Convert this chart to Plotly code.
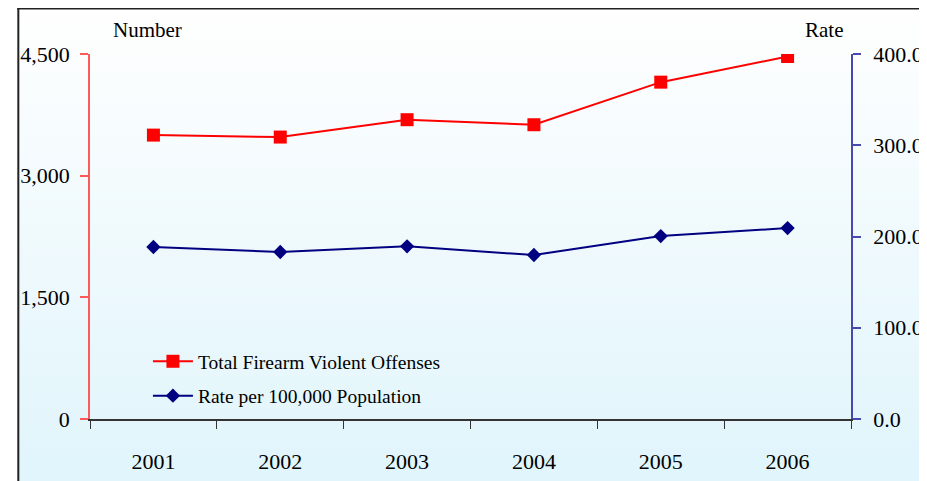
import plotly.graph_objects as go

years = ["2001", "2002", "2003", "2004", "2005", "2006"]
offenses = [3500, 3476, 3690, 3628, 4153, 4469]
rates = [188.5, 183.0, 189.2, 179.7, 200.5, 209.2]
left_ticks = [0, 1500, 3000, 4500]
left_labels = ["0", "1,500", "3,000", "4,500"]
right_ticks = [0, 100, 200, 300, 400]
right_labels = ["0.0", "100.0", "200.0", "300.0", "400.0"]

OFF = 8  # page body margin
W, H = 927, 481
L, T = 82 - OFF, 53.5 - OFF
R = W - (857 - OFF)
B = H - (419 - OFF)
pw, ph = W - L - R, H - T - B

def px_x(x):  # page px -> paper
    return (x - OFF - L) / pw

def px_y(y):
    return (H - B - (y - OFF)) / ph

SERIF = "Liberation Serif, Times New Roman, serif"

fig = go.Figure()
fig.add_trace(go.Scatter(
    x=years, y=offenses, name="Total Firearm Violent Offenses",
    mode="lines+markers", line=dict(color="#ff0000", width=2),
    marker=dict(symbol="square", size=13, color="#ff0000"),
    yaxis="y", legendgroup="a"))
fig.add_trace(go.Scatter(
    x=years, y=rates, name="Rate per 100,000 Population",
    mode="lines+markers", line=dict(color="#000080", width=2),
    marker=dict(symbol="diamond", size=11, color="#000080"),
    yaxis="y2", legendgroup="b"))

# background gradient bands
shapes = []
n = 60
top, bot = 7, 481 + OFF
for i in range(n):
    y0 = top + (bot - top) * i / n
    y1 = top + (bot - top) * (i + 1) / n + 0.5
    t = i / (n - 1)
    r = int(255 + (224 - 255) * t)
    g = int(255 + (245 - 255) * t)
    b = int(255 + (252 - 255) * t)
    shapes.append(dict(type="rect", xref="paper", yref="paper",
                       x0=px_x(8), x1=px_x(940), y0=px_y(y1), y1=px_y(y0),
                       line=dict(width=0), fillcolor=f"rgb({r},{g},{b})",
                       layer="below"))
# frame (left and top edges)
shapes.append(dict(type="line", xref="paper", yref="paper",
                   x0=px_x(9), x1=px_x(9), y0=px_y(495), y1=px_y(7),
                   line=dict(color="#222222", width=2), layer="above"))
shapes.append(dict(type="line", xref="paper", yref="paper",
                   x0=px_x(8), x1=px_x(940), y0=px_y(8), y1=px_y(8),
                   line=dict(color="#222222", width=2), layer="above"))

fig.update_layout(
    width=W, height=H,
    margin=dict(l=L, r=R, t=T, b=B),
    paper_bgcolor="white", plot_bgcolor="rgba(0,0,0,0)",
    font=dict(family=SERIF, size=22, color="black"),
    shapes=shapes,
    xaxis=dict(type="category", range=[-0.5, 5.5], tickson="boundaries",
               showgrid=False, zeroline=False, showline=True,
               linecolor="#333333", linewidth=1.5, ticks="outside",
               ticklen=8, tickcolor="#333333", tickwidth=1,
               ticklabelstandoff=22, tickfont=dict(size=22)),
    xaxis2=dict(overlaying="x", anchor="y", range=[-0.5, 5.5], tick0=-0.5,
                dtick=1, ticks="inside", ticklen=8, tickcolor="#333333",
                showticklabels=False, showgrid=False, zeroline=False,
                showline=False),
    yaxis=dict(range=[0, 4500], tickvals=left_ticks, ticktext=left_labels,
               showgrid=False, zeroline=False, showline=True,
               linecolor="#ff5a5a", linewidth=1.5, ticks="outside",
               ticklen=8, tickcolor="#ff5a5a", tickwidth=1.5,
               ticklabelstandoff=6, tickfont=dict(size=22)),
    yaxis3=dict(overlaying="y", anchor="x", side="left", range=[0, 4500],
                tickvals=left_ticks, ticks="inside", ticklen=8,
                tickcolor="#ff5a5a", tickwidth=1.5, showticklabels=False,
                showgrid=False, zeroline=False, showline=False),
    yaxis2=dict(overlaying="y", side="right", anchor="x", range=[0, 400],
                tickvals=right_ticks, ticktext=right_labels,
                showgrid=False, zeroline=False, showline=True,
                linecolor="#4848b0", linewidth=1.5, ticks="outside",
                ticklen=8, tickcolor="#4848b0", tickwidth=1.5,
                ticklabelstandoff=8, tickfont=dict(size=22)),
    yaxis4=dict(overlaying="y", side="right", anchor="x", range=[0, 400],
                tickvals=right_ticks, ticks="inside", ticklen=8,
                tickcolor="#4848b0", tickwidth=1.5, showticklabels=False,
                showgrid=False, zeroline=False, showline=False),
    legend=dict(x=px_x(141), y=px_y(342), xanchor="left", yanchor="top",
                bgcolor="rgba(0,0,0,0)", font=dict(size=19.5),
                tracegroupgap=6, itemwidth=40),
    showlegend=True,
    annotations=[
        dict(text="Number", xref="paper", yref="paper", x=px_x(141),
             y=px_y(29), xanchor="center", yanchor="middle",
             showarrow=False, font=dict(size=21)),
        dict(text="Rate", xref="paper", yref="paper", x=px_x(830),
             y=px_y(29), xanchor="center", yanchor="middle",
             showarrow=False, font=dict(size=21)),
    ],
)

fig.write_html("out.html")
